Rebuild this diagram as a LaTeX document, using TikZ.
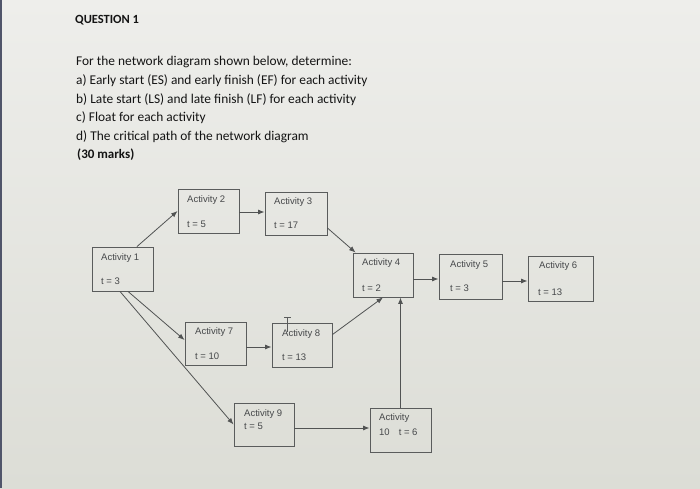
\documentclass[tikz,border=0pt]{standalone}
\usepackage{fontspec}
\setmainfont{Carlito}
\newfontfamily\boxfont{Liberation Sans}
\usetikzlibrary{arrows.meta}
\definecolor{bgtop}{HTML}{EEEEEB}
\definecolor{bgbot}{HTML}{DCDDD6}
\definecolor{boxline}{HTML}{5A5C5C}
\definecolor{boxtext}{HTML}{46484A}
\definecolor{qtext}{HTML}{141414}
\definecolor{edgecol}{HTML}{50556A}
\tikzset{
  actbox/.style={draw=boxline, line width=0.9pt, rectangle, inner sep=0pt},
  actlbl/.style={anchor=west, inner sep=0pt, text=boxtext, font=\boxfont\fontsize{9.5}{10}\selectfont},
  conn/.style={draw=boxline!90!black, line width=0.8pt, -{Latex[length=6.5pt,width=5pt]}},
  qline/.style={anchor=west, inner sep=0pt, text=qtext, font=\fontsize{13.4}{15}\selectfont},
}
\begin{document}
\begin{tikzpicture}[x=1pt,y=-1pt]
\useasboundingbox (0,0) rectangle (700,488);
\shade[top color=bgtop, bottom color=bgbot] (0,0) rectangle (700,488);
\fill[edgecol] (0,0) rectangle (1.5,488);

% question text
\node[qline, font=\bfseries\fontsize{12.5}{15}\selectfont] (q0) at (75,20) {QUESTION 1};
\node[qline] (q1) at (76,62) {For the network diagram shown below, determine:};
\node[qline] (q2) at (76,81) {a) Early start (ES) and early finish (EF) for each activity};
\node[qline] (q3) at (76,99.5) {b) Late start (LS) and late finish (LF) for each activity};
\node[qline] (q4) at (76,118) {c) Float for each activity};
\node[qline] (q5) at (76,137) {d) The critical path of the network diagram};
\node[qline, font=\bfseries\fontsize{13}{15}\selectfont] (q6) at (77,155) {(30 marks)};

% boxes
\node[actbox, minimum width=61pt, minimum height=44pt] (a1) at (122.5,269) {};
\node[actbox, minimum width=61pt, minimum height=44pt] (a2) at (208.5,211) {};
\node[actbox, minimum width=62pt, minimum height=43pt] (a3) at (296,213.5) {};
\node[actbox, minimum width=60pt, minimum height=44pt] (a4) at (383,275) {};
\node[actbox, minimum width=63pt, minimum height=45pt] (a5) at (470.5,276.5) {};
\node[actbox, minimum width=65pt, minimum height=45pt] (a6) at (560.5,278.5) {};
\node[actbox, minimum width=61pt, minimum height=43pt] (a7) at (215.5,343.5) {};
\node[actbox, minimum width=60pt, minimum height=44pt] (a8) at (302,345) {};
\node[actbox, minimum width=60pt, minimum height=43pt] (a9) at (264,424.5) {};
\node[actbox, minimum width=61pt, minimum height=44pt] (a10) at (400.5,430) {};

% labels
\node[actlbl] (l1a) at (101,258) {Activity 1};
\node[actlbl] (l1b) at (101,281) {t = 3};
\node[actlbl] (l2a) at (187,200) {Activity 2};
\node[actlbl] (l2b) at (187,224) {t = 5};
\node[actlbl] (l3a) at (274,202) {Activity 3};
\node[actlbl] (l3b) at (274,225) {t = 17};
\node[actlbl] (l4a) at (362,263) {Activity 4};
\node[actlbl] (l4b) at (362,288) {t = 2};
\node[actlbl] (l5a) at (450,265) {Activity 5};
\node[actlbl] (l5b) at (450,288) {t = 3};
\node[actlbl] (l6a) at (539,266) {Activity 6};
\node[actlbl] (l6b) at (538,292) {t = 13};
\node[actlbl] (l7a) at (195,332) {Activity 7};
\node[actlbl] (l7b) at (195,356) {t = 10};
\node[actlbl] (l8a) at (282,334) {Activity 8};
\node[actlbl] (l8b) at (282,357) {t = 13};
\node[actlbl] (l9a) at (244,414) {Activity 9};
\node[actlbl] (l9b) at (244,426) {t = 5};
\node[actlbl] (l10a) at (379,418) {Activity};
\node[actlbl] (l10b) at (379,432) {10\hspace{9pt}t = 6};

% text cursor seen above Activity 8
\draw[boxline, line width=0.6pt] (284,317) -- (291,317) (287.5,317) -- (287.5,332);

% connectors
\draw[conn] ([xshift=14.5pt]a1.north) -- (a2.west);
\draw[conn] ([yshift=-1pt]a2.east) -- ([yshift=-1pt]a2.east -| a3.west);
\draw[conn] ([yshift=-14.5pt]a3.east) -- ([xshift=3pt]a4.north west);
\draw[conn] ([yshift=-4pt]a4.east) -- ([yshift=-4pt]a4.east -| a5.west);
\draw[conn] ([yshift=-4.5pt]a5.east) -- ([yshift=-4.5pt]a5.east -| a6.west);
\draw[conn] ([xshift=5.5pt]a1.south) -- ([yshift=3.5pt]a7.west);
\draw[conn] ([xshift=-2.5pt]a1.south) -- (a9.west);
\draw[conn] ([yshift=-3.5pt]a7.east) -- ([yshift=-3.5pt]a7.east -| a8.west);
\draw[conn] ([yshift=-3.5pt]a9.east) -- ([yshift=-3.5pt]a9.east -| a10.west);
\draw[conn] ([yshift=-12pt]a8.north east) -- (a4.south);
\draw[conn] (a10.north) -- (a10.north |- a4.south);
\end{tikzpicture}
\end{document}
